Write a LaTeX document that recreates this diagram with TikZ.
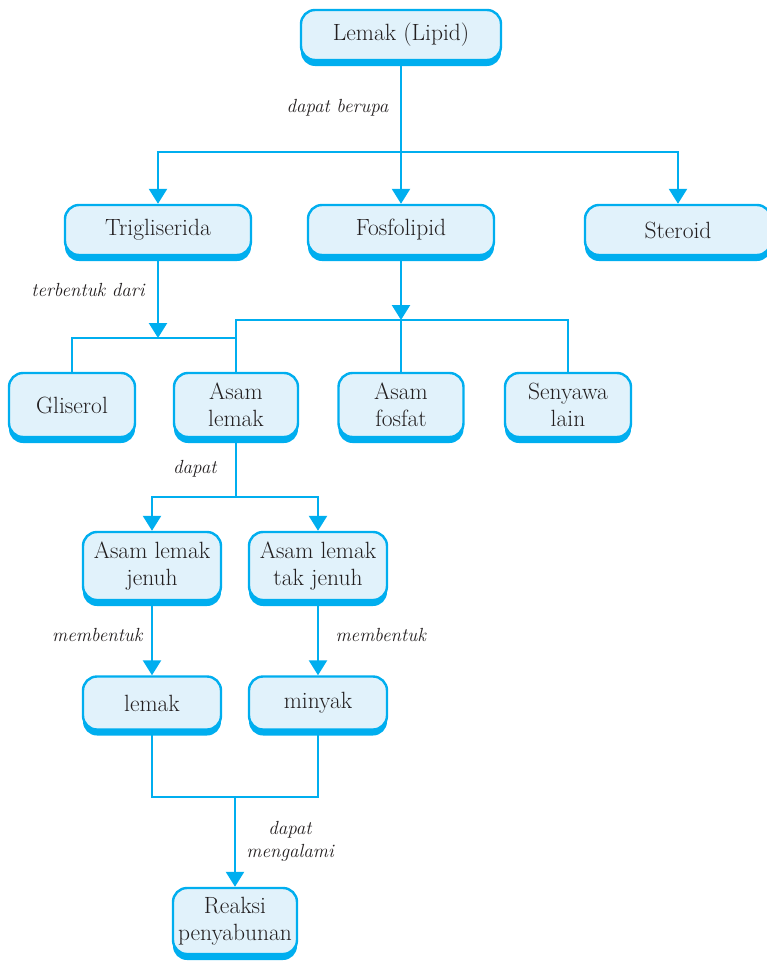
\documentclass[tikz,border=0pt]{standalone}
\usepackage{amsmath, amssymb, tikz}
\usepackage{fontspec}
\usetikzlibrary{arrows.meta, shadows}
\definecolor{lipidcyan}{HTML}{00AEEF}
\definecolor{lipidfill}{HTML}{E1F2FB}
\definecolor{lipidtext}{HTML}{231F20}

\begin{document}
\begin{tikzpicture}[x=1pt, y=-1pt,
        kotak/.style={draw=lipidcyan, line width=2.4pt, fill=lipidfill, rounded corners=14pt,
            text=lipidtext, align=center, inner sep=0pt, font=\fontsize{23.5}{27}\selectfont,
            drop shadow={shadow xshift=0pt, shadow yshift=-6pt, fill=lipidcyan, opacity=1}},
        garis/.style={draw=lipidcyan, line width=2.4pt},
        panah/.style={garis, -{Triangle[width=18pt,length=15pt]}},
        ket/.style={text=lipidtext, align=center, font=\fontsize{19}{23}\selectfont\itshape}]
                \useasboundingbox (0,0) rectangle (766,961);
                % kotak
                \node[kotak, minimum width=200, minimum height=50] (lipid) at (401,35) {Lemak (Lipid)};
                \node[kotak, minimum width=186, minimum height=50] (tri) at (158,230) {Trigliserida};
                \node[kotak, minimum width=186, minimum height=50] (fos) at (401,230) {Fosfolipid};
                \node[kotak, minimum width=186, minimum height=50] (ster) at (678,230) {Steroid};
                \node[kotak, minimum width=126, minimum height=64] (gli) at (72,405) {Gliserol};
                \node[kotak, minimum width=124, minimum height=64] (asl) at (236,405) {Asam\\lemak};
                \node[kotak, minimum width=125, minimum height=64] (asf) at (401,405) {Asam\\fosfat};
                \node[kotak, minimum width=126, minimum height=64] (sen) at (568,405) {Senyawa\\lain};
                \node[kotak, minimum width=138, minimum height=68] (jenuh) at (152,566) {Asam lemak\\jenuh};
                \node[kotak, minimum width=138, minimum height=68] (tak) at (318,566) {Asam lemak\\tak jenuh};
                \node[kotak, minimum width=138, minimum height=53] (lem) at (152,703) {lemak};
                \node[kotak, minimum width=138, minimum height=53] (min) at (318,703) {minyak};
                \node[kotak, minimum width=124, minimum height=66] (reak) at (235,921) {Reaksi\\penyabunan};
                \coordinate (cabang1) at (401,152);
                \coordinate (cabang2) at (158,338);
                \coordinate (cabang3) at (401,320);
                \coordinate (cabang4) at (236,497);
                \coordinate (cabang5) at (235,797);
                % garis penghubung
                \draw[garis] (lipid.south) -- (cabang1);
                \draw[panah] (cabang1) -| (tri.north);
                \draw[panah] (cabang1) -- (fos.north);
                \draw[panah] (cabang1) -| (ster.north);
                \draw[panah] (tri.south) -- (cabang2);
                \draw[garis] (gli.north) |- (asl.north |- cabang2);
                \draw[panah] (fos.south) -- (cabang3);
                \draw[garis] (asl.north) |- (cabang3) -| (sen.north);
                \draw[garis] (cabang3) -- (asf.north);
                \draw[garis] (asl.south) -- (cabang4);
                \draw[panah] (cabang4) -| (jenuh.north);
                \draw[panah] (cabang4) -| (tak.north);
                \draw[panah] (jenuh.south) -- (lem.north);
                \draw[panah] (tak.south) -- (min.north);
                \draw[garis] (lem.south) |- (cabang5) -| (min.south);
                \draw[panah] (cabang5) -- (reak.north);
                % keterangan
                \node[ket, anchor=east] (k1) at (392,108) {dapat berupa};
                \node[ket, anchor=east] (k2) at (148,290) {terbentuk dari};
                \node[ket, anchor=east] (k3) at (220,469) {dapat};
                \node[ket, anchor=east] (k4) at (146,635) {membentuk};
                \node[ket, anchor=west] (k5) at (332,635) {membentuk};
                \node[ket] (k6) at (290,841) {dapat\\mengalami};
            \end{tikzpicture}
\end{document}
